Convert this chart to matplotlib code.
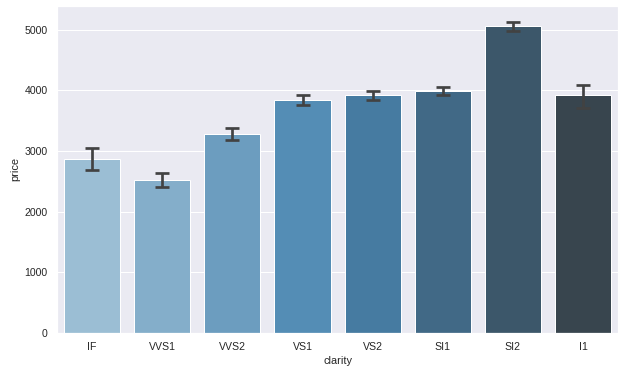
import matplotlib
matplotlib.use("Agg")
import matplotlib.pyplot as plt
import seaborn as sns
import numpy as np

clarity = ["IF", "VVS1", "VVS2", "VS1", "VS2", "SI1", "SI2", "I1"]
mean_price = [2865, 2523, 3284, 3840, 3925, 3996, 5063, 3924]
ci_low = [2685, 2410, 3175, 3765, 3840, 3925, 4975, 3710]
ci_high = [3045, 2632, 3375, 3920, 3985, 4055, 5125, 4090]

sns.set_theme(style="darkgrid")
plt.rcParams['font.family'] = ['Liberation Sans', 'DejaVu Sans']

fig, ax = plt.subplots(figsize=(620/72, 374/72), dpi=72)
colors = [sns.desaturate(c, 0.75) for c in sns.color_palette("Blues_d", len(clarity))]
x = np.arange(len(clarity))
ax.bar(x, mean_price, width=0.8, color=colors, edgecolor="white", linewidth=1)
err_color = ".26"
lw = 2.7
ax.vlines(x, ci_low, ci_high, color=err_color, linewidth=lw)
cap = 0.1
ax.hlines(ci_low, x - cap, x + cap, color=err_color, linewidth=lw)
ax.hlines(ci_high, x - cap, x + cap, color=err_color, linewidth=lw)

ax.set_xticks(x)
ax.set_xticklabels(clarity)
ax.set_xlim(-0.5, len(clarity) - 0.5)
ax.set_ylim(0, 5400)
ax.xaxis.grid(False)
ax.set_xlabel("clarity", fontsize=11)
ax.set_ylabel("price", fontsize=11)
ax.tick_params(labelsize=10.5)
fig.subplots_adjust(left=0.092, right=0.997, top=0.985, bottom=0.11)
fig.savefig("out.png", dpi=72)
